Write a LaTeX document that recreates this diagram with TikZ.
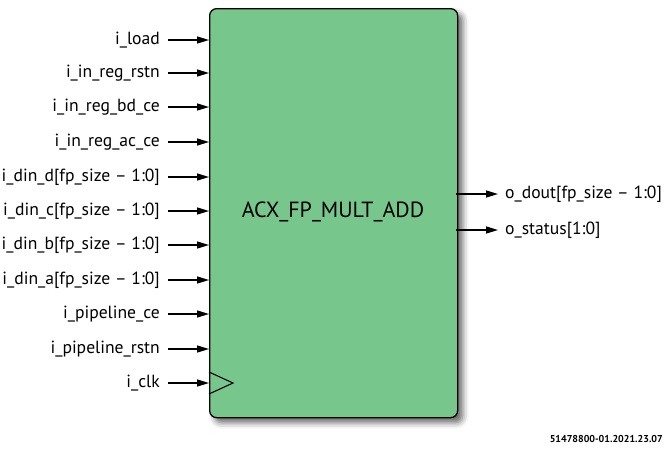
\documentclass[tikz,border=0pt]{standalone}
\usepackage{fontspec}
\setmainfont{PT Sans}
\usetikzlibrary{arrows.meta,shadows.blur}
\definecolor{blockgreen}{HTML}{77C68B}
\tikzset{
  sig/.style={font=\fontsize{17.6}{19}\selectfont, inner sep=0pt},
  inarrow/.style={draw=black, line width=1.4pt, -{Triangle[length=12pt,width=7pt]}},
}
\begin{document}
\begin{tikzpicture}[x=1pt,y=-1pt]
\useasboundingbox (0,0) rectangle (664,455);
\node[draw=black, line width=1.3pt, fill=blockgreen, rounded corners=7pt,
  minimum width=248pt, minimum height=409pt, anchor=north west, inner sep=0pt,
  blur shadow={shadow xshift=5pt, shadow yshift=-5pt, shadow blur radius=6pt, shadow opacity=60}]
  (blk) at (209,8) {};
\node[font=\fontsize{22}{24}\selectfont, inner sep=0pt] (title) at (333,212) {ACX\_FP\_MULT\_ADD};
% clock triangle
\coordinate (ct) at (209,372);
\coordinate (ctip) at (233,383);
\coordinate (cb) at (209,394);
\draw[line width=1.1pt] (ct) -- (ctip) -- (cb);
% inputs
\foreach \n/\y/\t in {
  a/40/{i\_load},
  b/73/{i\_in\_reg\_rstn},
  c/107/{i\_in\_reg\_bd\_ce},
  d/142/{i\_in\_reg\_ac\_ce},
  e/177/{i\_din\_d[fp\_size – 1:0]},
  f/211/{i\_din\_c[fp\_size – 1:0]},
  g/245/{i\_din\_b[fp\_size – 1:0]},
  h/280/{i\_din\_a[fp\_size – 1:0]},
  i/314/{i\_pipeline\_ce},
  j/349/{i\_pipeline\_rstn},
  k/383/{i\_clk}}{
  \coordinate (s\n) at (168,\y);
  \coordinate (e\n) at (209,\y);
  \node[sig, anchor=east] (l\n) at (160,\y) {\t};
  \draw[inarrow] (s\n) -- (e\n);
}
% outputs
\coordinate (so1) at (456,194);
\coordinate (eo1) at (498,194);
\coordinate (so2) at (456,230);
\coordinate (eo2) at (498,230);
\draw[inarrow] (so1) -- (eo1);
\draw[inarrow] (so2) -- (eo2);
\node[sig, anchor=west] (lo1) at (505,194) {o\_dout[fp\_size – 1:0]};
\node[sig, anchor=west] (lo2) at (505,230) {o\_status[1:0]};
\node[font=\fontsize{10}{11}\selectfont\bfseries, anchor=east, inner sep=0pt] (fn) at (663,439) {51478800-01.2021.23.07};
\end{tikzpicture}
\end{document}
